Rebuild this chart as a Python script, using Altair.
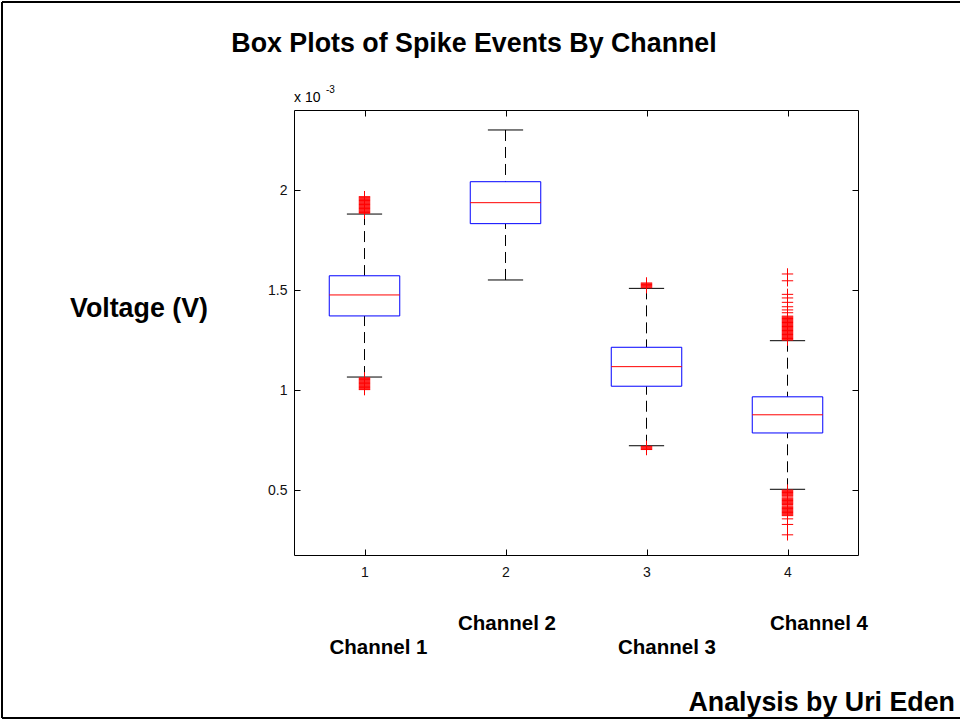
import altair as alt
import pandas as pd

# ---------------- data (values in units of 1e-3 V) ----------------
channels = [1, 2, 3, 4]
q1 = [1.372, 1.834, 1.020, 0.786]
medians = [1.477, 1.939, 1.118, 0.877]
q3 = [1.573, 2.044, 1.215, 0.967]
whisker_lo = [1.066, 1.552, 0.722, 0.504]
whisker_hi = [1.882, 2.303, 1.510, 1.248]

out_ch1 = [1.003, 1.006, 1.010, 1.014, 1.018, 1.022, 1.026, 1.030, 1.034, 1.038,
           1.042, 1.046, 1.050, 1.054, 1.058, 1.062,
           1.886, 1.890, 1.894, 1.898, 1.902, 1.906, 1.910, 1.914, 1.918, 1.922,
           1.926, 1.930, 1.934, 1.938, 1.942, 1.946, 1.950, 1.954, 1.958, 1.962,
           1.966, 1.969]
out_ch2 = []
out_ch3 = [0.703, 0.707, 0.711, 0.715, 0.719,
           1.513, 1.517, 1.521, 1.525, 1.529, 1.533, 1.537]
out_ch4 = [0.276, 0.328, 0.356,
           0.372, 0.376, 0.380, 0.384, 0.388, 0.392, 0.396, 0.400, 0.404, 0.408,
           0.412, 0.416, 0.421, 0.428, 0.432, 0.436, 0.440, 0.444, 0.448, 0.452,
           0.456, 0.460, 0.466, 0.472, 0.476, 0.480, 0.484, 0.488, 0.492, 0.496,
           0.500,
           1.251, 1.255, 1.259, 1.263, 1.267, 1.271, 1.275, 1.279, 1.283, 1.287,
           1.291, 1.295, 1.299, 1.303, 1.307, 1.311, 1.315, 1.319, 1.323, 1.327,
           1.331, 1.335, 1.339, 1.343, 1.347, 1.351, 1.355, 1.359, 1.363, 1.367,
           1.371, 1.388, 1.402, 1.418, 1.440, 1.462, 1.480, 1.548, 1.582]

y_ticks = [0.5, 1, 1.5, 2]
x_ticks = [1, 2, 3, 4]
channel_labels = ["Channel 1", "Channel 2", "Channel 3", "Channel 4"]
title_text = "Box Plots of Spike Events By Channel"
ylabel_text = "Voltage (V)"
credit_text = "Analysis by Uri Eden"
exp_base = "x 10"
exp_power = "-3"

FONT = "Liberation Sans"

box_df = pd.DataFrame(dict(channel=channels, q1=q1, med=medians, q3=q3,
                           lo=whisker_lo, hi=whisker_hi))
out_channels = ([1] * len(out_ch1) + [2] * len(out_ch2) +
                [3] * len(out_ch3) + [4] * len(out_ch4))
out_df = pd.DataFrame({"channel": out_channels,
                       "value": out_ch1 + out_ch2 + out_ch3 + out_ch4})

xscale = alt.Scale(domain=[0.5, 4.5], nice=False, zero=False)
yscale = alt.Scale(domain=[0.175, 2.403], nice=False, zero=False)

common = dict(title=None, domain=False, grid=False, tickSize=6, offset=-6,
              tickColor="black", tickWidth=1, labelFont=FONT, labelFontSize=14,
              labelColor="#111111")
left_axis = alt.Axis(orient="left", values=y_ticks, format=".1~f", labelPadding=7, **common)
right_axis = alt.Axis(orient="right", values=y_ticks, labels=False, **common)
bottom_axis = alt.Axis(orient="bottom", values=x_ticks, format="d", labelPadding=10, **common)
top_axis = alt.Axis(orient="top", values=x_ticks, labels=False, **common)

base = alt.Chart(box_df).transform_calculate(
    xl="datum.channel - 0.25", xr="datum.channel + 0.25",
    cl="datum.channel - 0.125", cr="datum.channel + 0.125")

whisk_up = base.mark_rule(color="black", strokeWidth=1, strokeDash=[11, 6]).encode(
    x=alt.X("channel:Q", scale=xscale, axis=None),
    y=alt.Y("hi:Q", scale=yscale, axis=None), y2="q3:Q")
whisk_dn = base.mark_rule(color="black", strokeWidth=1, strokeDash=[11, 6]).encode(
    x=alt.X("channel:Q", scale=xscale, axis=None),
    y=alt.Y("lo:Q", scale=yscale, axis=None), y2="q1:Q")

cap_hi = base.mark_rule(color="black", strokeWidth=1).encode(
    x=alt.X("cl:Q", scale=xscale, axis=bottom_axis), x2="cr:Q",
    y=alt.Y("hi:Q", scale=yscale, axis=left_axis))
cap_lo = base.mark_rule(color="black", strokeWidth=1).encode(
    x=alt.X("cl:Q", scale=xscale, axis=None), x2="cr:Q",
    y=alt.Y("lo:Q", scale=yscale, axis=None))

box = base.mark_rect(fill="white", stroke="#0000ff", strokeWidth=1).encode(
    x=alt.X("xl:Q", scale=xscale, axis=top_axis), x2="xr:Q",
    y=alt.Y("q1:Q", scale=yscale, axis=right_axis), y2="q3:Q")

median = base.mark_rule(color="#ff0000", strokeWidth=1).encode(
    x=alt.X("xl:Q", scale=xscale, axis=None), x2="xr:Q",
    y=alt.Y("med:Q", scale=yscale, axis=None))

outliers = alt.Chart(out_df).mark_point(
    shape="M-1,0L1,0M0,-1L0,1", filled=False, color="#ff0000",
    strokeWidth=1, size=130, opacity=1).encode(
    x=alt.X("channel:Q", scale=xscale, axis=None),
    y=alt.Y("value:Q", scale=yscale, axis=None))


def label(text, x, y, size, align="center", weight="bold"):
    return alt.Chart(pd.DataFrame({"t": [text]})).mark_text(
        font=FONT, fontSize=size, fontWeight=weight, align=align,
        baseline="alphabetic", color="black").encode(
        x=alt.value(x), y=alt.value(y), text="t:N")


annotations = [
    label(title_text, 180, -58, 26.8),
    label(ylabel_text, -224, 207, 26.8, align="left"),
    label(channel_labels[0], 84.5, 544, 20.5),
    label(channel_labels[1], 213, 520, 20.5),
    label(channel_labels[2], 373, 544, 20.5),
    label(channel_labels[3], 525, 520, 20.5),
    label(credit_text, 661, 601, 26.8, align="right"),
    label(exp_base, 0, -8, 14, align="left", weight="normal"),
    label(exp_power, 32, -17, 10, align="left", weight="normal"),
]

frame_df = pd.DataFrame({"k": [0]})
frame = [
    alt.Chart(frame_df).mark_rule(color="black", strokeWidth=2).encode(
        x=alt.value(-292), x2=alt.value(666), y=alt.value(-108)),
    alt.Chart(frame_df).mark_rule(color="black", strokeWidth=2).encode(
        x=alt.value(-292), y=alt.value(-108), y2=alt.value(608)),
    alt.Chart(frame_df).mark_rule(color="black", strokeWidth=2).encode(
        x=alt.value(-292), x2=alt.value(666), y=alt.value(608)),
]

chart = alt.layer(
    whisk_up, whisk_dn, cap_hi, cap_lo, box, median, outliers,
    *annotations, *frame
).resolve_axis(x="independent", y="independent").properties(
    width=564, height=445,
    padding={"left": 294, "top": 110, "right": 102, "bottom": 168},
    autosize=alt.AutoSizeParams(type="none"),
    background="white",
).configure_view(stroke="black", strokeWidth=1)

chart.save("out.html", embed_options={"renderer": "svg", "actions": False})
